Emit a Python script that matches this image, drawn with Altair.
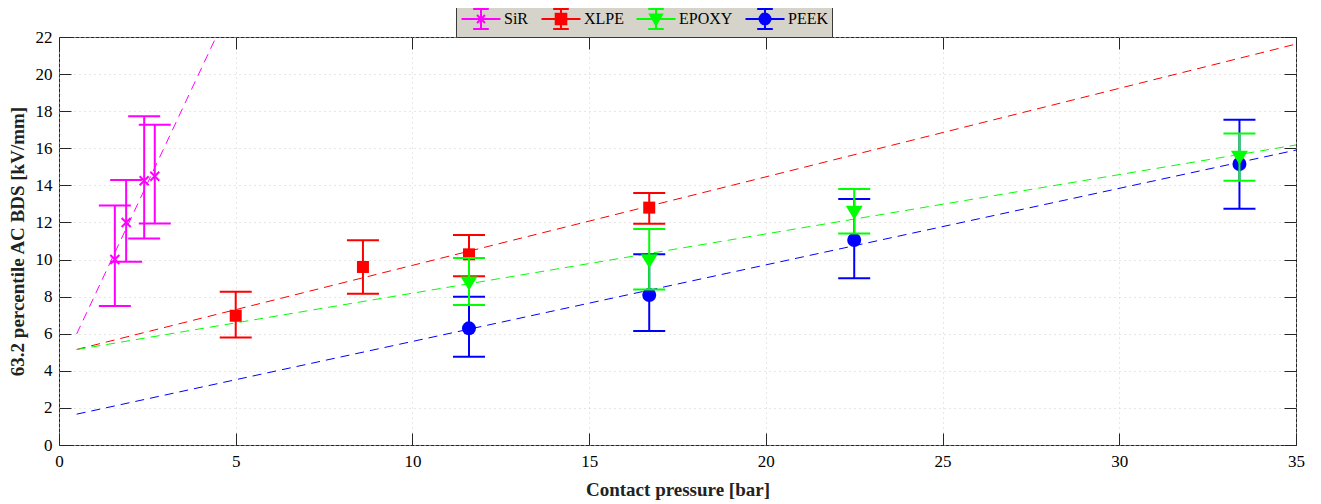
import altair as alt
import pandas as pd

# ---------------- data ----------------
series = ["SiR", "XLPE", "EPOXY", "PEEK"]
colors = ["#ff00ff", "#ff0000", "#00ff00", "#0000ff"]
draw_order = ["SiR", "XLPE", "PEEK", "EPOXY"]

sir_x = [1.58, 1.90, 2.41, 2.71]
sir_y = [10.00, 12.00, 14.25, 14.49]
sir_lo = [7.50, 9.88, 11.14, 11.95]
sir_hi = [12.92, 14.29, 17.72, 17.27]

xlpe_x = [5.0, 8.6, 11.6, 16.7]
xlpe_y = [6.97, 9.60, 10.28, 12.80]
xlpe_lo = [5.79, 8.16, 9.10, 11.93]
xlpe_hi = [8.27, 11.04, 11.32, 13.59]

epoxy_x = [11.6, 16.7, 22.5, 33.4]
epoxy_y = [8.77, 9.97, 12.58, 15.55]
epoxy_lo = [7.55, 8.39, 11.40, 14.25]
epoxy_hi = [10.08, 11.65, 13.80, 16.79]

peek_x = [11.6, 16.7, 22.5, 33.4]
peek_y = [6.29, 8.09, 11.05, 15.15]
peek_lo = [4.76, 6.15, 8.99, 12.74]
peek_hi = [8.00, 10.28, 13.26, 17.54]

x_ticks = [0, 5, 10, 15, 20, 25, 30, 35]
y_ticks = [0, 2, 4, 6, 8, 10, 12, 14, 16, 18, 20, 22]
fit_extent = [0.5, 35]

# ---------------- table ----------------
rows = []
for name, xs, ys, los, his in [
    ("SiR", sir_x, sir_y, sir_lo, sir_hi),
    ("XLPE", xlpe_x, xlpe_y, xlpe_lo, xlpe_hi),
    ("EPOXY", epoxy_x, epoxy_y, epoxy_lo, epoxy_hi),
    ("PEEK", peek_x, peek_y, peek_lo, peek_hi),
]:
    for a, b, c, d in zip(xs, ys, los, his):
        rows.append({"series": name, "x": a, "y": b, "lo": c, "hi": d})
df = pd.DataFrame(rows)
color_of = dict(zip(series, colors))

# ---------------- styling ----------------
FONT = "'Liberation Serif', 'DejaVu Serif', serif"
AX = "#262626"
GRID = "#cfcfcf"
x_scale = alt.Scale(domain=[0, 35], nice=False, zero=False)
y_scale = alt.Scale(domain=[0, 22], nice=False, zero=False)

markers = {
    "SiR": ("M-1,-1L1,1M-1,1L1,-1", 81, False),
    "XLPE": ("square", 144, True),
    "EPOXY": ("M-1,-0.7L1,-0.7L0,0.95Z", 289, True),
    "PEEK": ("circle", 196, True),
}

common = "M-1.95,0H1.95M0,-1V1M-0.78,-1H0.78M-0.78,1H0.78"
glyphs = [
    common + "M-0.4,-0.4L0.4,0.4M-0.4,0.4L0.4,-0.4",
    common + "M-0.53,-0.53H0.53V0.53H-0.53Z",
    common + "M-0.6,-0.45H0.6L0,0.6Z",
    common + "M0.55,0A0.55,0.55,0,1,1,-0.55,0A0.55,0.55,0,1,1,0.55,0Z",
]

x_main = alt.Axis(
    orient="bottom", offset=-12, tickSize=12, tickColor=AX, tickWidth=1,
    domain=False, values=x_ticks, labelPadding=8, labelFont=FONT,
    labelFontSize=17, labelFontWeight="normal", labelColor="#000",
    labelFlush=False, labelOverlap=False,
    grid=True, gridColor=GRID, gridDash=[1, 4], gridWidth=1,
    title="Contact pressure [bar]", titleFont=FONT, titleFontSize=19,
    titleFontWeight="bold", titleColor="#222", titlePadding=11,
)
x_top = alt.Axis(
    orient="top", offset=-12, tickSize=12, tickColor=AX, tickWidth=1,
    domain=False, values=x_ticks, labels=False, grid=False, title=None,
)
y_main = alt.Axis(
    orient="left", offset=-12, tickSize=12, tickColor=AX, tickWidth=1,
    domain=False, values=y_ticks, labelPadding=7, labelFont=FONT,
    labelFontSize=17, labelFontWeight="normal", labelColor="#000",
    labelFlush=False, labelOverlap=False,
    grid=True, gridColor=GRID, gridDash=[1, 4], gridWidth=1,
    title="63.2 percentile AC BDS [kV/mm]", titleFont=FONT, titleFontSize=19,
    titleFontWeight="bold", titleColor="#222", titlePadding=8,
)
y_right = alt.Axis(
    orient="right", offset=-12, tickSize=12, tickColor=AX, tickWidth=1,
    domain=False, values=y_ticks, labels=False, grid=False, title=None,
)

base = alt.Chart(df)
layers = []

# regression (dashed) lines
for i, s in enumerate(series):
    ax_x = x_main if i == 0 else (x_top if i == 1 else None)
    ax_y = y_main if i == 0 else (y_right if i == 1 else None)
    layers.append(
        base.transform_filter(alt.datum.series == s)
        .transform_regression("x", "y", extent=fit_extent)
        .mark_line(color=color_of[s], strokeWidth=1, strokeDash=[9, 6], clip=True)
        .encode(
            x=alt.X("x:Q", scale=x_scale, axis=ax_x),
            y=alt.Y("y:Q", scale=y_scale, axis=ax_y),
        )
    )

# error bars and markers
for s in draw_order:
    c = color_of[s]
    sub = base.transform_filter(alt.datum.series == s)
    X = alt.X("x:Q", scale=x_scale, axis=None)
    layers.append(
        sub.mark_rule(color=c, strokeWidth=2).encode(
            x=X, y=alt.Y("lo:Q", scale=y_scale, axis=None), y2="hi:Q"
        )
    )
    for f in ["lo", "hi"]:
        layers.append(
            sub.mark_tick(orient="horizontal", color=c, size=32, thickness=2, opacity=1).encode(
                x=X, y=alt.Y(f + ":Q", scale=y_scale, axis=None)
            )
        )
    shp, sz, filled = markers[s]
    if filled:
        m = sub.mark_point(shape=shp, size=sz, filled=True, color=c, opacity=1)
    else:
        m = sub.mark_point(shape=shp, size=sz, filled=False, color=c, opacity=1, strokeWidth=2)
    layers.append(m.encode(x=X, y=alt.Y("y:Q", scale=y_scale, axis=None)))

# legend (glyphs from the legend's own scales)
leg = alt.Legend(
    title=None, orient="none", legendX=397, legendY=-33, direction="horizontal",
    columns=4, fillColor="#d6d4ca", strokeColor="#3a3a3a", padding=4,
    cornerRadius=0, symbolSize=400, symbolOffset=10, symbolStrokeWidth=2,
    symbolFillColor="#000000", symbolStrokeColor="#000000", symbolOpacity=1,
    labelFont=FONT, labelFontSize=16, labelFontWeight="normal", labelColor="#000",
    labelOffset=12, columnPadding=8, rowPadding=0,
)
layers.append(
    base.transform_filter("false")
    .mark_point(filled=True, opacity=1, strokeWidth=2)
    .encode(
        x=alt.X("x:Q", scale=x_scale, axis=None),
        y=alt.Y("y:Q", scale=y_scale, axis=None),
        fill=alt.Fill("series:N", scale=alt.Scale(domain=series, range=colors), legend=leg),
        stroke=alt.Stroke("series:N", scale=alt.Scale(domain=series, range=colors), legend=leg),
        shape=alt.Shape("series:N", scale=alt.Scale(domain=series, range=glyphs), legend=leg),
    )
)

chart = (
    alt.layer(*layers)
    .resolve_axis(x="independent", y="independent")
    .properties(
        width=1237,
        height=408,
        autosize=alt.AutoSizeParams(type="none"),
        padding={"left": 51, "top": 29, "right": 10, "bottom": 58},
        background="white",
    )
    .configure(font=FONT)
    .configure_axis(labelFont=FONT, titleFont=FONT)
    .configure_legend(labelFont=FONT)
    .configure_view(stroke=AX, strokeWidth=1)
)

chart.save("out.html", embed_options={"renderer": "svg", "actions": False})
